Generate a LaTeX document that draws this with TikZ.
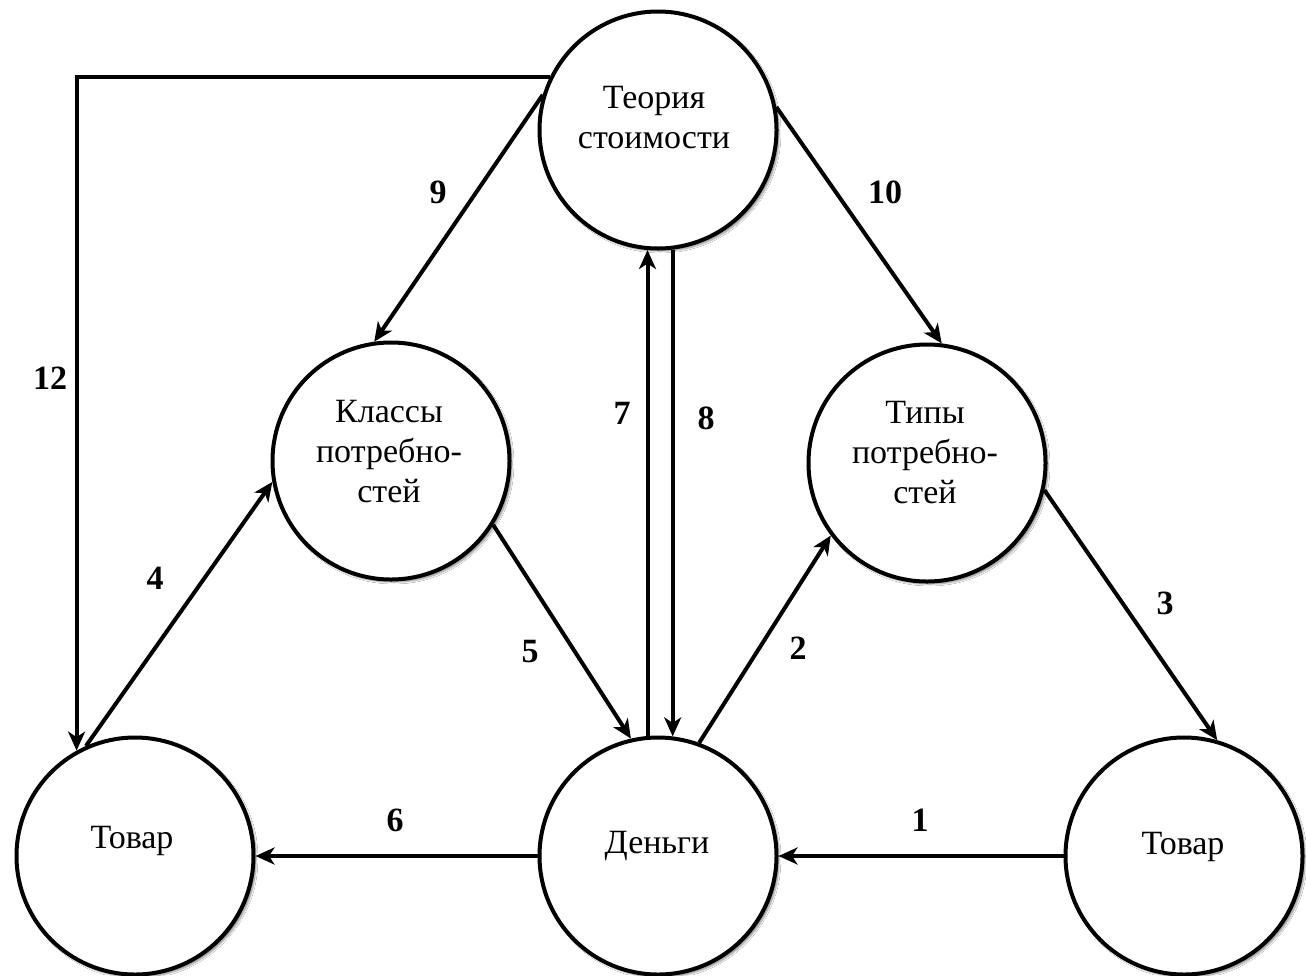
\documentclass[tikz,border=0pt]{standalone}
\usepackage{fontspec}
\setmainfont{Liberation Serif}
\newfontfamily\tnr{Liberation Serif}
\usetikzlibrary{arrows.meta,shadows.blur}
\tikzset{
  circ/.style={circle, draw=black, line width=4pt, fill=white, minimum size=237pt, inner sep=0pt,
    blur shadow={shadow xshift=2.5pt, shadow yshift=-2.5pt, shadow blur steps=6, shadow blur extra rounding=2pt, shadow opacity=45}},
  txt/.style={align=center, font=\tnr\fontsize{34}{40}\selectfont, inner sep=0pt},
  num/.style={font=\tnr\fontsize{34}{38}\selectfont\bfseries, inner sep=0pt},
  conn/.style={line width=4pt, -{Stealth[length=19pt,width=17pt,inset=5.5pt]}},
}
\begin{document}
\begin{tikzpicture}[x=1pt,y=-1pt]
\useasboundingbox (0,0) rectangle (1306,975);
\clip (0,0) rectangle (1306,975);
\fill[white] (0,0) rectangle (1306,975);
% circles
\node[circ] (T) at (658,130) {};
\node[circ] (K) at (391,461) {};
\node[circ] (P) at (927,463) {};
\node[circ] (L) at (135,856) {};
\node[circ] (D) at (658,856) {};
\node[circ] (R) at (1184,856) {};
% texts
\node[txt] (Tt) at (654,118) {Теория\\стоимости};
\node[txt] (Kt) at (389,452) {Классы\\потребно-\\стей};
\node[txt] (Pt) at (925,453) {Типы\\потребно-\\стей};
\node[txt] (Lt) at (132,841) {Товар};
\node[txt] (Dt) at (657,846) {Деньги};
\node[txt] (Rt) at (1183,847) {Товар};
% connectors
\draw[conn] (T.154) -| (L.119);
\draw[conn] (T.163) -- (K.98);
\draw[conn] (T.11) -- (P.83);
\draw[conn] (D.95) -- (T.265);
\draw[conn] (T.277) -- (D.83);
\draw[conn] (L.114) -- (K.190);
\draw[conn] (K.328) -- (D.103);
\draw[conn] (D.70) -- (P.217);
\draw[conn] (P.347) -- (R.74);
\draw[conn] (D.west) -- (L.east);
\draw[conn] (R.west) -- (D.east);
% numbers
\node[num] (n12) at (50,378) {12};
\node[num] (n9) at (438,192) {9};
\node[num] (n10) at (885,192) {10};
\node[num] (n7) at (622,413) {7};
\node[num] (n8) at (706,418) {8};
\node[num] (n4) at (155,578) {4};
\node[num] (n5) at (530,652) {5};
\node[num] (n2) at (798,648) {2};
\node[num] (n3) at (1165,603) {3};
\node[num] (n6) at (395,820) {6};
\node[num] (n1) at (920,820) {1};
\end{tikzpicture}
\end{document}
